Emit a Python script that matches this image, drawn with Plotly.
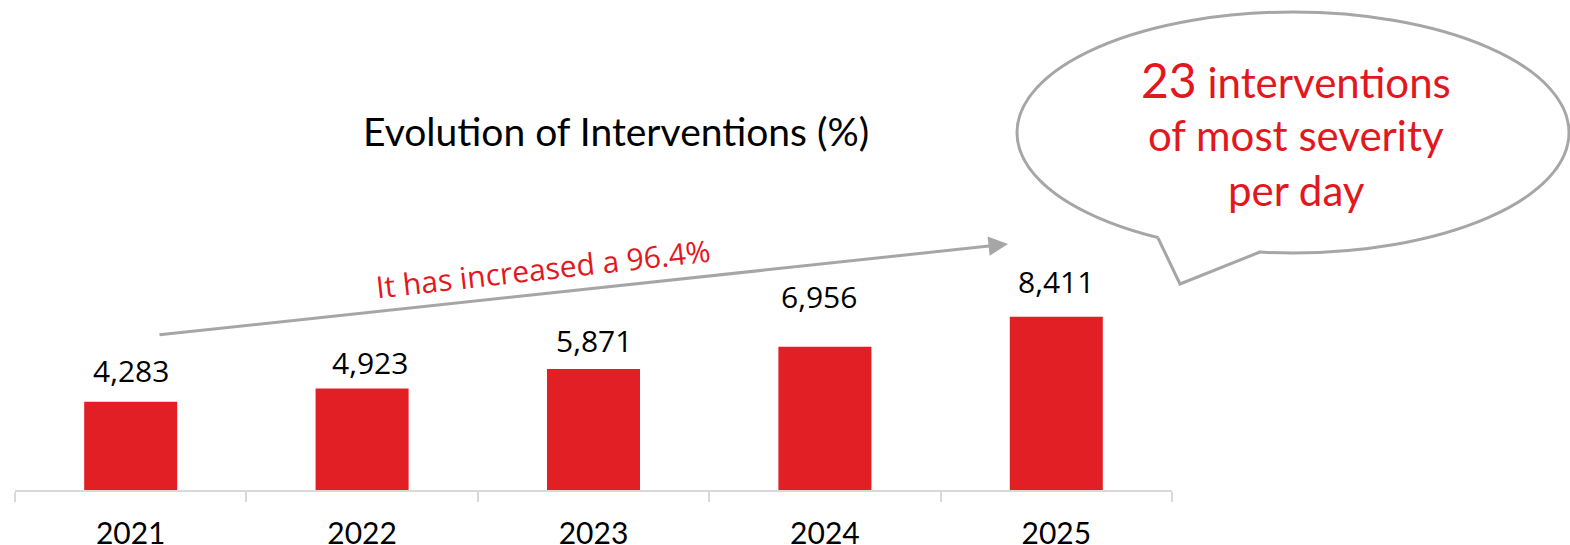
import plotly.graph_objects as go

# Yearly interventions
years = ["2021", "2022", "2023", "2024", "2025"]
interventions = [4283, 4923, 5871, 6956, 8411]
value_labels = ["4,283", "4,923", "5,871", "6,956", "8,411"]

# per-label placement tweaks (pixels)
label_lift = [9, 4, 6, 28, 13]
label_nudge = [0, 8, 0, -6, 0]

title_text = "Evolution of Interventions (%)"
growth_text = "It has increased a 96.4%"
bubble_lines = [
    '<span style="font-size:48px">23</span> interventions',
    "of most severity",
    "per day",
]

W, H = 1570, 545
PLOT_L, PLOT_R, PLOT_B = 15, 1172, 490
PX_PER_UNIT = 0.0206

RED = "#E11F24"
TEXT_RED = "#E3171E"
GREY = "#A6A6A6"
AXIS_GREY = "#D9D9D9"
GEO_FONT = "Lato"
NUM_FONT = "Open Sans"


def px(x):
    return (x - PLOT_L) / (PLOT_R - PLOT_L)


def py(y):
    return (PLOT_B - y) / PLOT_B


fig = go.Figure(
    go.Bar(
        x=years,
        y=interventions,
        marker=dict(color=RED, line=dict(width=0)),
        width=0.402,
        hoverinfo="skip",
    )
)

annotations = []
for i, (v, lab, lift, nudge) in enumerate(zip(interventions, value_labels, label_lift, label_nudge)):
    annotations.append(dict(
        x=i, y=v, xref="x", yref="y", text=lab, showarrow=False,
        yanchor="bottom", yshift=lift, xshift=nudge,
        font=dict(family=NUM_FONT, size=30, color="#000000"),
    ))

# chart title
annotations.append(dict(
    x=px(616), y=py(131), xref="paper", yref="paper", text=title_text,
    showarrow=False, xanchor="center", yanchor="middle",
    font=dict(family=GEO_FONT, size=39, color="#000000"),
))

# growth arrow
annotations.append(dict(
    x=px(1008), y=py(244), xref="paper", yref="paper", text="",
    showarrow=True, ax=158 - 1008, ay=335 - 244,
    arrowcolor=GREY, arrowwidth=3, arrowhead=2, arrowsize=1.3,
))
annotations.append(dict(
    x=px(543), y=py(268), xref="paper", yref="paper", text=growth_text,
    showarrow=False, xanchor="center", yanchor="middle", textangle=-6.3,
    font=dict(family=NUM_FONT, size=30, color=TEXT_RED),
))

# speech bubble text
for line, base_y in zip(bubble_lines, [80, 135, 190]):
    annotations.append(dict(
        x=px(1296), y=py(base_y), xref="paper", yref="paper", text=line,
        showarrow=False, xanchor="center", yanchor="middle",
        font=dict(family=GEO_FONT, size=42, color=TEXT_RED),
    ))

# speech bubble outline with tail
tail = [(1158, 238), (1180, 284), (1260, 252)]
cover = tail + [(1255, 244), (1163, 231)]


def path_of(points, close=False):
    s = " ".join(("M" if i == 0 else "L") + f" {px(x):.5f} {py(y):.5f}" for i, (x, y) in enumerate(points))
    return s + (" Z" if close else "")


shapes = [
    dict(type="circle", xref="paper", yref="paper",
         x0=px(1017), x1=px(1569), y0=py(253), y1=py(12),
         line=dict(color=GREY, width=3), fillcolor="white", layer="below"),
    dict(type="path", xref="paper", yref="paper", path=path_of(cover, close=True),
         line=dict(width=0), fillcolor="white", layer="below"),
    dict(type="path", xref="paper", yref="paper", path=path_of(tail),
         line=dict(color=GREY, width=3), layer="below"),
]

fig.update_layout(
    width=W, height=H,
    margin=dict(l=PLOT_L, r=W - PLOT_R, t=0, b=H - PLOT_B, pad=0, autoexpand=False),
    paper_bgcolor="white", plot_bgcolor="rgba(0,0,0,0)",
    showlegend=False,
    annotations=annotations,
    shapes=shapes,
    xaxis=dict(
        type="category", automargin=False, tickangle=0,
        range=[-0.5, len(years) - 0.5],
        showline=True, linecolor=AXIS_GREY, linewidth=2,
        ticks="outside", tickson="boundaries", ticklen=10,
        tickcolor=AXIS_GREY, tickwidth=2, showgrid=False,
        tickfont=dict(family=GEO_FONT, size=30, color="#000000"),
        ticklabelstandoff=16, fixedrange=True,
    ),
    yaxis=dict(visible=False, range=[0, PLOT_B / PX_PER_UNIT], fixedrange=True),
)

fig.write_html("out.html")
